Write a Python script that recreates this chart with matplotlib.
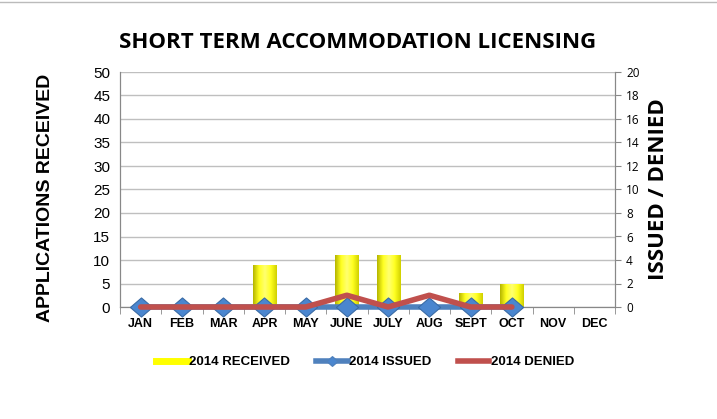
import matplotlib.pyplot as plt
from matplotlib.lines import Line2D
from matplotlib.colors import LinearSegmentedColormap
import numpy as np

# -----------------------------
# DATA
# -----------------------------

months = ["JAN", "FEB", "MAR", "APR", "MAY", "JUNE", "JULY", "AUG", "SEPT", "OCT", "NOV", "DEC"]
received = [0, 0, 0, 9, 0, 11, 11, 0, 3, 5, 0, 0]
issued = [0, 0, 0, 0, 0, 0, 0, 0, 0, 0]
denied = [0, 0, 0, 0, 0, 1, 0, 1, 0, 0]

# -----------------------------
# CHART
# -----------------------------

fig = plt.figure(figsize=(7.17, 4.19), dpi=100)
ax = fig.add_axes([120 / 717, 1 - 307 / 419, 495 / 717, 235 / 419])
ax2 = ax.twinx()

x = np.arange(len(months))
bars = ax.bar(x, received, width=0.56, color="#FFFF00", edgecolor="#B8B800", linewidth=0.6, zorder=2)

# cylinder-like shading on the bars
shade = LinearSegmentedColormap.from_list("shade", ["#B5B500", "#FFFF20", "#FFFF70", "#FFFF20", "#D0D000"])
grad = np.linspace(0, 1, 64).reshape(1, -1)
for b in bars:
    if b.get_height() <= 0:
        continue
    bx, by = b.get_x(), b.get_y()
    im = ax.imshow(grad, cmap=shade, aspect="auto", zorder=2.1,
                   extent=[bx, bx + b.get_width(), by, by + b.get_height()])
    im.set_clip_path(b)
ax.set_xlim(-0.5, 11.5)
ax.set_ylim(0, 50)

diamond = [(-1, 0), (0, -0.86), (1, 0), (0, 0.86), (-1, 0)]
xi = np.arange(len(issued))
ax2.plot(xi, issued, color="#4F81BD", linewidth=4, marker=diamond, markersize=16,
         markerfacecolor="#4A86CF", markeredgecolor="#3A6BA5", markeredgewidth=0.8,
         zorder=3, clip_on=False)
ax2.plot(xi, denied, color="#C0504D", linewidth=4, zorder=4, solid_capstyle="round", clip_on=False)

ax.set_yticks(range(0, 51, 5))
ax2.set_ylim(0, 20)
ax2.set_yticks(range(0, 21, 2))

ax.yaxis.grid(True, color="#BFBFBF", linewidth=1)
ax.set_axisbelow(True)

ax.set_xticks(x)
ax.set_xticklabels(months, fontfamily="Liberation Sans", fontweight="bold", fontsize=9)
ax.set_xticks(np.arange(-0.5, 12, 1), minor=True)
ax.tick_params(axis="x", which="major", length=0, pad=8)
ax.tick_params(axis="x", which="minor", length=5, color="#888888")
ax.tick_params(axis="y", length=0, labelsize=11, pad=7)
for lab in ax.get_yticklabels():
    lab.set_fontfamily("Liberation Sans")
ax2.tick_params(axis="y", length=4, color="#888888", labelsize=8.5, pad=4)
for lab in ax2.get_yticklabels():
    lab.set_fontfamily("Open Sans")

for a in (ax, ax2):
    a.spines["top"].set_visible(False)
    a.spines["left"].set_color("#888888")
    a.spines["right"].set_color("#888888")
    a.spines["bottom"].set_color("#888888")

fig.text(46 / 717, 1 - 198 / 419, "APPLICATIONS RECEIVED", rotation=90, ha="center", va="center",
         fontfamily="Liberation Sans", fontweight="bold", fontsize=14)
fig.text(658 / 717, 1 - 189 / 419, "ISSUED / DENIED", rotation=90, ha="center", va="center",
         fontfamily="Open Sans", fontweight="bold", fontsize=16)

fig.text(358 / 717, 1 - 43 / 419, "SHORT TERM ACCOMMODATION LICENSING", ha="center", va="center",
         fontfamily="Open Sans", fontweight="bold", fontsize=16)

handles = [
    Line2D([], [], color="#FFFF00", linewidth=5),
    Line2D([], [], color="#4F81BD", linewidth=4, marker=diamond, markersize=8, markerfacecolor="#4A86CF"),
    Line2D([], [], color="#C0504D", linewidth=4),
]
fig.legend(handles, ["2014 RECEIVED", "2014 ISSUED", "2014 DENIED"], loc="center",
           bbox_to_anchor=(365 / 717, 1 - 362 / 419), ncol=3, frameon=False,
           prop={"family": "Liberation Sans", "weight": "bold", "size": 9.5},
           handlelength=2.4, handletextpad=0.1, columnspacing=2.0)

fig.add_artist(Line2D([0, 1], [1 - 2 / 419, 1 - 2 / 419], color="#BBBBBB", linewidth=1))

plt.savefig("out.png", dpi=100)
